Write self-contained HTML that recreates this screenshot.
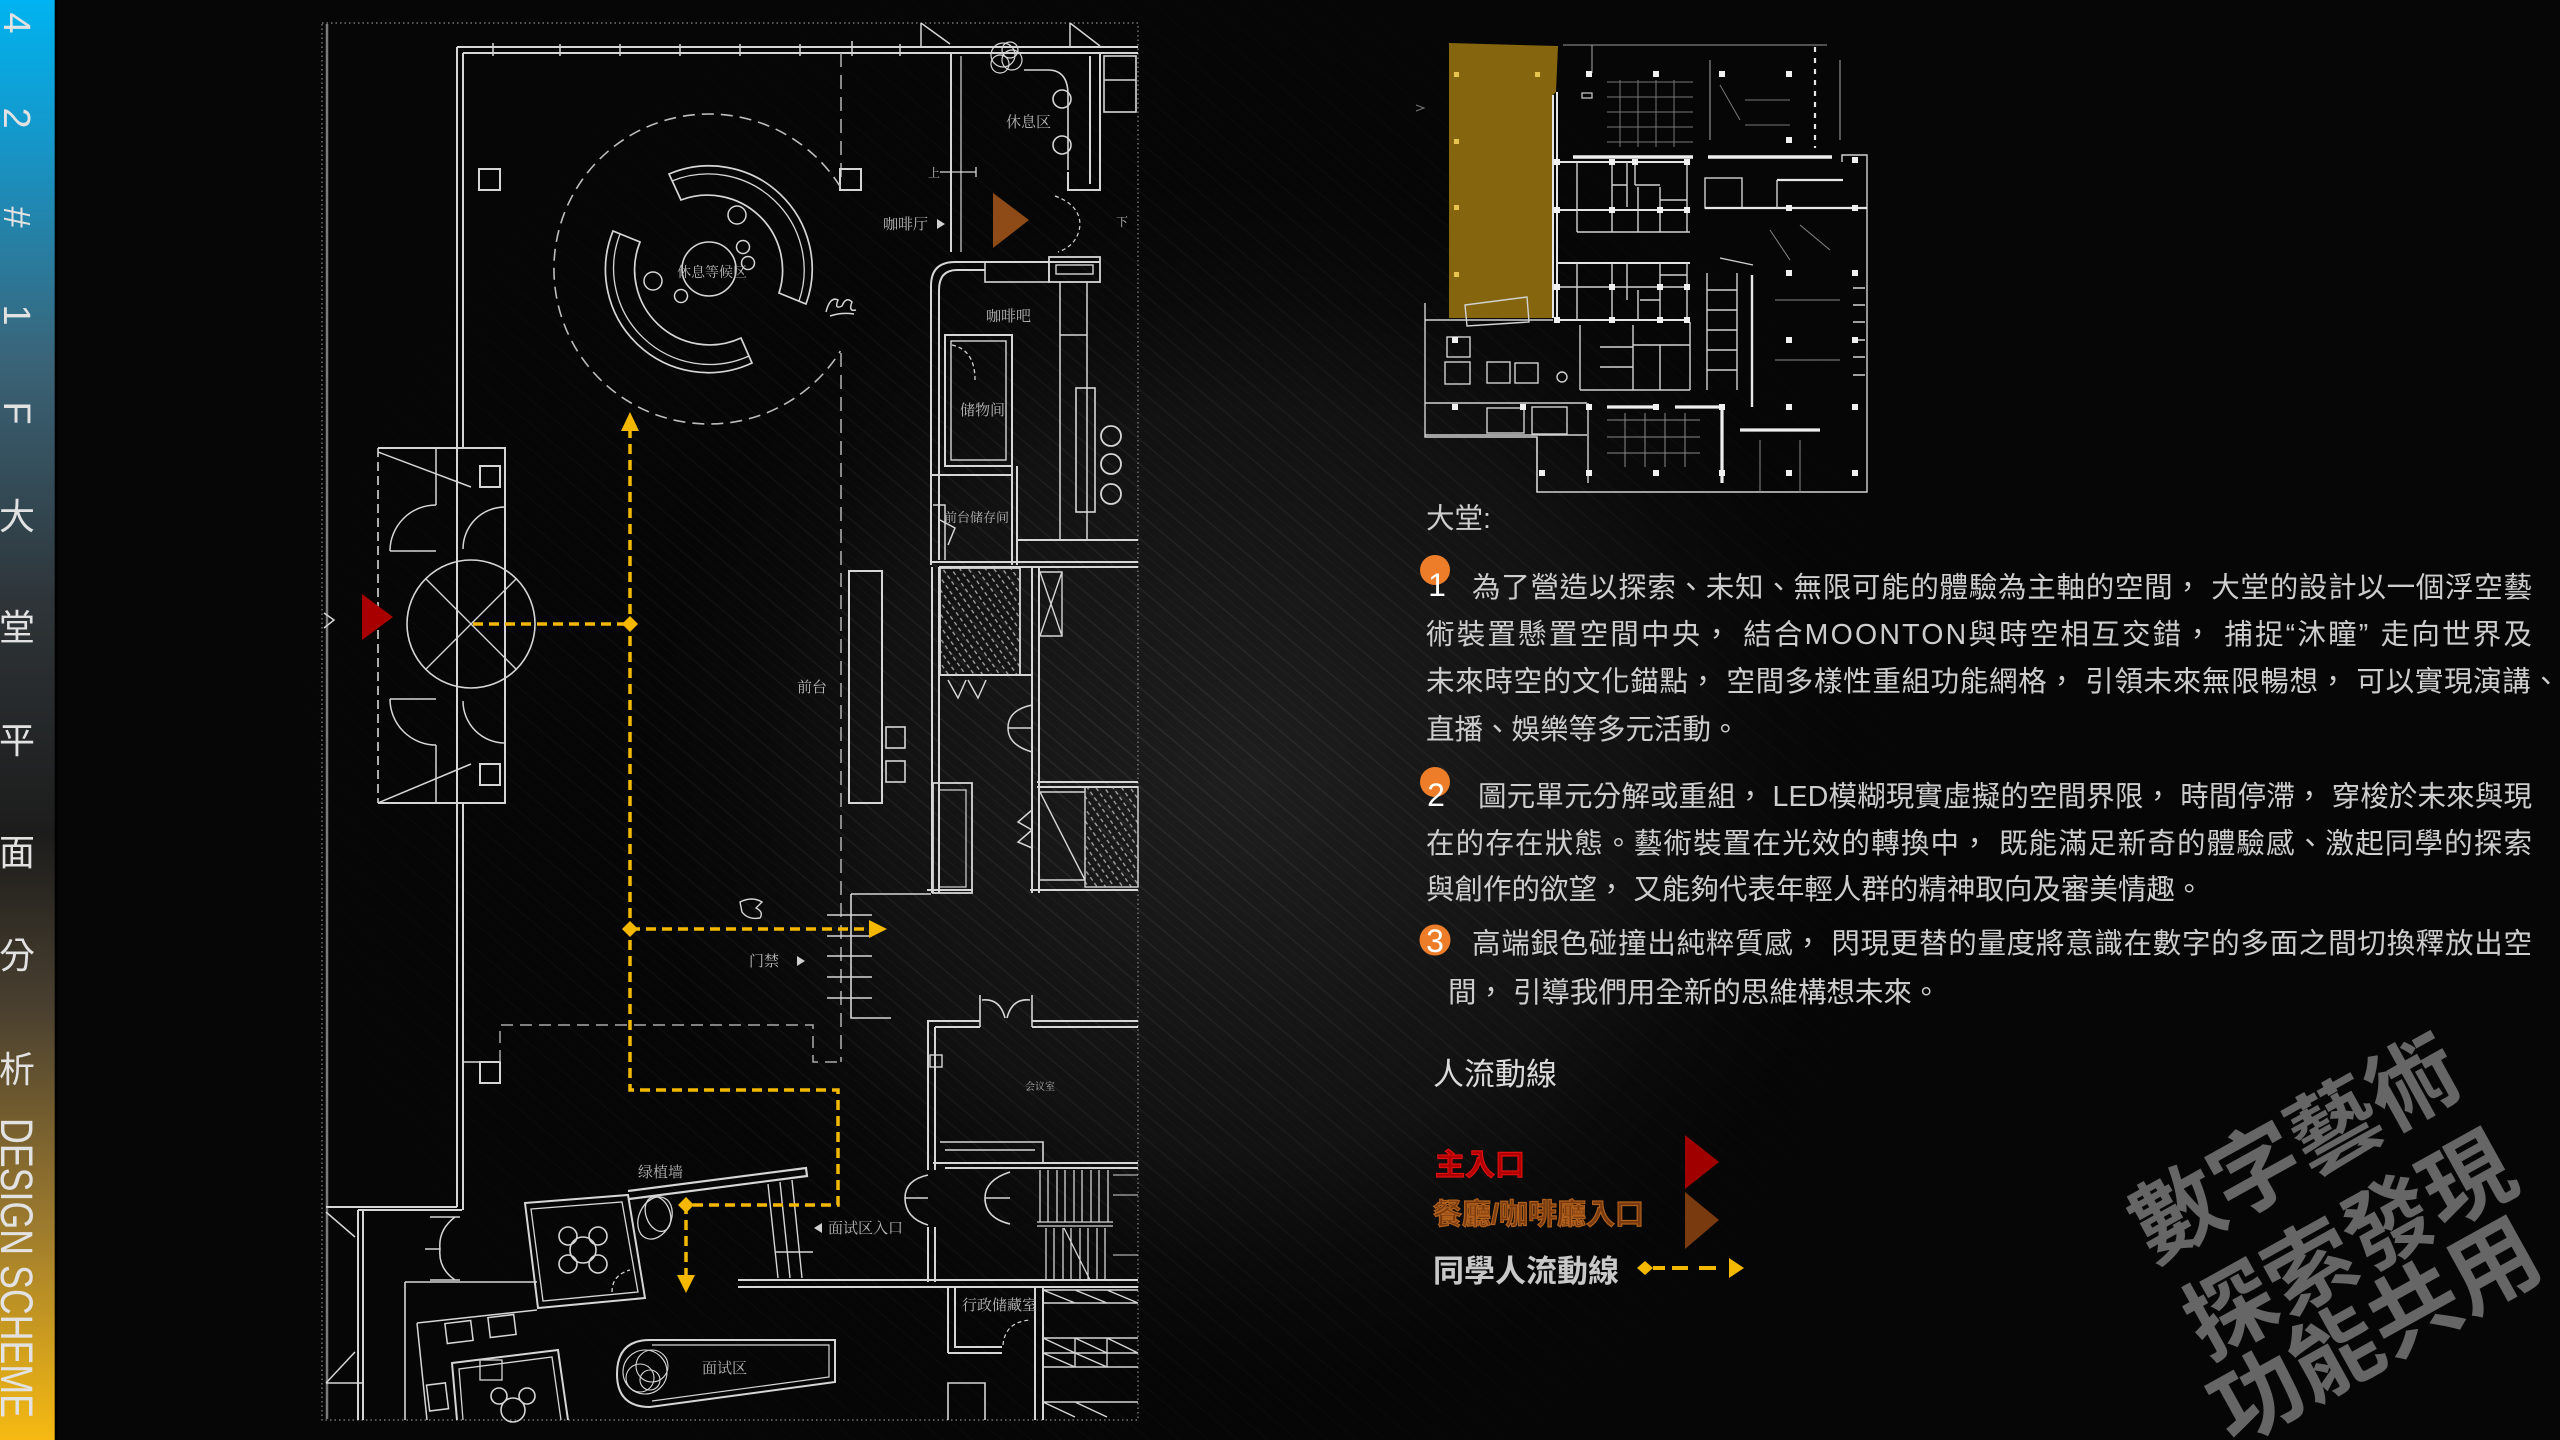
<!DOCTYPE html>
<html><head><meta charset="utf-8">
<style>
html,body{margin:0;padding:0;background:#060606;width:2560px;height:1440px;overflow:hidden}
svg{display:block}
</style></head><body>
<svg width="2560" height="1440" viewBox="0 0 2560 1440" xmlns="http://www.w3.org/2000/svg" font-family="'Liberation Sans','Noto Sans CJK TC',sans-serif">
<defs>
 <linearGradient id="side" x1="0" y1="0" x2="0" y2="1">
  <stop offset="0" stop-color="#00b3f0"/>
  <stop offset="0.1" stop-color="#1696c8"/>
  <stop offset="0.25" stop-color="#3a6478"/>
  <stop offset="0.42" stop-color="#2e3438"/>
  <stop offset="0.58" stop-color="#1c1c1b"/>
  <stop offset="0.7" stop-color="#4a4030"/>
  <stop offset="0.85" stop-color="#9c7a2e"/>
  <stop offset="1" stop-color="#f6ba12"/>
 </linearGradient>
 <radialGradient id="glow" cx="1250" cy="780" r="650" gradientUnits="userSpaceOnUse">
  <stop offset="0" stop-color="#1e1e1e"/>
  <stop offset="0.6" stop-color="#111"/>
  <stop offset="1" stop-color="#060606" stop-opacity="0"/>
 </radialGradient>
 <radialGradient id="mg" cx="1100" cy="760" r="900" gradientUnits="userSpaceOnUse">
  <stop offset="0" stop-color="#fff"/>
  <stop offset="1" stop-color="#000"/>
 </radialGradient>
 <mask id="sm"><rect width="2560" height="1440" fill="url(#mg)"/></mask>
 <pattern id="streak" width="19" height="19" patternUnits="userSpaceOnUse" patternTransform="rotate(40)">
  <line x1="0" y1="3" x2="19" y2="3" stroke="#fff" stroke-opacity="0.08" stroke-width="1.4"/>
  <line x1="0" y1="12" x2="19" y2="12" stroke="#fff" stroke-opacity="0.04" stroke-width="1"/>
 </pattern>
 <pattern id="hatch" width="7" height="7" patternUnits="userSpaceOnUse" patternTransform="rotate(55)">
  <line x1="0" y1="2" x2="4" y2="2" stroke="#aaa" stroke-width="1.3"/>
 </pattern>
</defs>

<!-- background -->
<rect width="2560" height="1440" fill="#060606"/>
<rect width="2560" height="1440" fill="url(#glow)"/>
<rect width="2560" height="1440" fill="url(#streak)" mask="url(#sm)"/>

<!-- sidebar -->
<rect x="0" y="0" width="55" height="1440" fill="url(#side)"/>
<line x1="56" y1="0" x2="56" y2="1440" stroke="#000" stroke-width="3" stroke-opacity="0.6"/>
<g fill="#e2e2e2" font-size="38">
 <text transform="translate(4,23) rotate(90)" text-anchor="middle">4</text>
 <text transform="translate(4,118) rotate(90)" text-anchor="middle">2</text>
 <text transform="translate(4,217) rotate(90)" text-anchor="middle">#</text>
 <text transform="translate(4,315) rotate(90)" text-anchor="middle">1</text>
 <text transform="translate(4,413) rotate(90)" text-anchor="middle">F</text>
</g>
<g fill="#e2e2e2" font-size="36" text-anchor="middle">
 <text x="17" y="529">大</text>
 <text x="17" y="640">堂</text>
 <text x="17" y="753">平</text>
 <text x="17" y="865">面</text>
 <text x="17" y="968">分</text>
 <text x="17" y="1082">析</text>
</g>
<text transform="translate(1,1118) rotate(90)" fill="#e2e2e2" font-size="45" textLength="300" lengthAdjust="spacingAndGlyphs">DESIGN SCHEME</text>

<!-- ================= FLOOR PLAN ================= -->
<rect x="322" y="23" width="816" height="1397" fill="none" stroke="#8a8a8a" stroke-width="1.2" stroke-dasharray="1.5 3"/>
<line x1="327" y1="24" x2="327" y2="1419" stroke="#7a7a7a" stroke-width="2.5"/>

<g fill="none" stroke="#d6d6d6" stroke-width="2">
 <!-- top wall -->
 <path d="M457 47 H1138 M463 53 H1138"/>
 <path stroke-width="1.5" d="M493 43v13 M560 44v12 M620 44v12 M680 44v12 M740 44v12 M800 44v12 M852 41v15 M900 44v12"/>
 <!-- left hall wall -->
 <path d="M457 47 V1207 M463 53 V448 M463 803 V1210"/>
 <!-- dashed axis -->
 <path stroke="#aaa" stroke-width="1.6" stroke-dasharray="14 8" d="M841 53 V180 M841 353 V1062"/>
 <!-- columns -->
 <rect x="479" y="169" width="21" height="21"/>
 <rect x="840" y="169" width="21" height="21"/>
 <rect x="480" y="466" width="20" height="21"/>
 <rect x="480" y="764" width="20" height="21"/>
 <rect x="480" y="1062" width="20" height="21"/>

 <!-- big dashed circle -->
 <path stroke="#bdbdbd" stroke-width="1.6" stroke-dasharray="12 7" d="M840.4 186.9 A155 155 0 1 0 840.4 351.1"/>
 <!-- installation bands -->
 <path stroke-width="1.7" d="M669 174 A103 103 0 0 1 806 304 L779 293 A75 75 0 0 0 681 200 Z"/>
 <path stroke-width="1.3" d="M672 181 A96 96 0 0 1 799 301"/>
 <path stroke-width="1.7" d="M752 363 A103 103 0 0 1 613 231 L640 242 A75 75 0 0 0 741 338 Z"/>
 <path stroke-width="1.3" d="M749 356 A96 96 0 0 1 620 234"/>
 <circle cx="709" cy="269" r="27" stroke-width="1.6"/>
 <circle cx="737" cy="215" r="9" stroke-width="1.5"/>
 <circle cx="743" cy="247" r="6.5" stroke-width="1.5"/>
 <circle cx="748" cy="263" r="6.5" stroke-width="1.5"/>
 <circle cx="653" cy="281" r="9" stroke-width="1.5"/>
 <circle cx="681" cy="296" r="6.5" stroke-width="1.5"/>
 <!-- sketch figure -->
 <path stroke-width="1.5" d="M826 312 Q830 296 838 300 Q834 310 842 306 Q846 296 852 302 Q848 312 856 310 M830 316 Q842 312 854 314"/>

 <!-- vestibule -->
 <path d="M378 448 H505 V803 H378"/>
 <line x1="378" y1="448" x2="378" y2="803" stroke-dasharray="9 5" stroke-width="1.6"/>
 <path stroke-width="1.5" d="M436 448 V505 M436 745 V803 M378 452 L471 487 M378 803 L471 764"/>
 <path stroke-width="1.5" d="M436 505 A46 46 0 0 0 390 551 M390 551 H436 M463 549 A42 42 0 0 1 505 507"/>
 <path stroke-width="1.5" d="M436 745 A46 46 0 0 1 390 699 M390 699 H436 M463 701 A42 42 0 0 0 505 743"/>
 <circle cx="471" cy="624" r="64" stroke-width="1.6"/>
 <path stroke-width="1.4" d="M426 579 L516 669 M426 669 L516 579"/>
 <path stroke-width="1.5" d="M324 613 L334 620 L324 628"/>

 <!-- top right: lounge -->
 <path stroke-width="1.5" d="M921 23 V47 M921 23 L950 44 M1070 23 V47 M1070 23 L1100 46"/>
 <path d="M951 53 V252 M1100 53 V190 H1068 V172 M1090 56 V184"/>
 <path stroke-width="1.2" d="M961 56 V252"/>
 <rect x="1104" y="56" width="32" height="56" stroke-width="1.6"/>
 <path stroke-width="1.6" d="M1104 80 H1136"/>
 <path stroke-width="1.6" d="M1024 70 H1048 Q1068 70 1068 95 V170"/>
 <circle cx="1062" cy="99" r="9" stroke-width="1.6"/>
 <circle cx="1062" cy="145" r="9" stroke-width="1.6"/>
 <g stroke-width="1.2"><circle cx="1003" cy="55" r="12"/><circle cx="1012" cy="60" r="10"/><circle cx="1000" cy="64" r="9"/><circle cx="1010" cy="50" r="8"/></g>
 <path stroke-width="1.3" d="M940 172 H976 M976 167 V177"/>
 <path stroke-width="1.2" stroke-dasharray="4 3" d="M1055 196 Q1080 205 1080 225 Q1078 245 1058 252"/>

 <!-- cafe block -->
 <path d="M931 565 V286 Q931 262 955 262 H1100 M939 560 V290 Q939 270 957 270 H985"/>
 <rect x="985" y="262" width="64" height="20" stroke-width="1.6"/>
 <rect x="1049" y="257" width="51" height="25" stroke-width="1.8"/>
 <rect x="1056" y="265" width="37" height="9" stroke-width="1.4"/>
 <path stroke-width="1.5" d="M1060 282 V540 M1087 282 V540 M1060 335 H1087"/>
 <rect x="1076" y="388" width="19" height="124" stroke-width="1.6"/>
 <circle cx="1111" cy="436" r="10" stroke-width="1.8"/>
 <circle cx="1111" cy="464" r="10" stroke-width="1.8"/>
 <circle cx="1111" cy="494" r="10" stroke-width="1.8"/>
 <rect x="945" y="335" width="67" height="131"/>
 <rect x="951" y="341" width="55" height="119" stroke-width="1.4"/>
 <path stroke-width="1.3" stroke-dasharray="4 3" d="M952 345 Q975 350 975 380"/>
 <path d="M931 475 H1012 M1012 335 V565 M1017 466 V565"/>
 <path d="M1017 540 H1138 M931 562 H1138 M939 567 H1138"/>
 <path stroke-width="1.5" d="M933 505 H945 V560 M940 520 L955 528 L948 545"/>

 <!-- right column mid -->
 <path d="M932 567 V893 M939 567 V893"/>
 <rect x="940" y="568" width="80" height="107" fill="url(#hatch)" stroke-width="1.8"/>
 <path d="M1032 568 V893 M1039 568 V893 M940 675 H1032"/>
 <path stroke-width="1.4" d="M1040 572 H1062 V636 H1040 M1040 572 L1062 636 M1062 572 L1040 636"/>
 <path stroke-width="1.5" d="M948 680 L958 698 L966 680 M968 680 L978 698 L986 680"/>
 <path stroke-width="1.5" d="M1032 705 Q1008 710 1008 728 Q1008 745 1032 752 M1008 728 H1032"/>
 <path d="M1037 782 H1138 M1037 787 H1138"/>
 <rect x="933" y="783" width="39" height="110" stroke-width="1.8"/>
 <rect x="939" y="790" width="27" height="97" stroke-width="1.2"/>
 <rect x="1085" y="787" width="53" height="100" fill="url(#hatch)" stroke-width="1.4"/>
 <path stroke-width="1.4" d="M1040 792 H1085 M1040 880 H1085 M1040 792 L1085 880"/>
 <path stroke-width="1.5" d="M1032 810 L1018 822 L1032 830 M1032 830 L1018 842 L1032 848"/>
 <path d="M927 890 H973 M1030 890 H1138"/>

 <!-- desk -->
 <rect x="849" y="571" width="33" height="232"/>
 <rect x="886" y="727" width="19" height="21" stroke-width="1.6"/>
 <rect x="886" y="761" width="19" height="21" stroke-width="1.6"/>

 <!-- gate area -->
 <path stroke-width="1.6" d="M851 894 H931 M851 894 V1018 H891"/>
 <path stroke-width="1.6" d="M827 915 H872 M827 936 H872 M827 956 H872 M827 977 H872 M827 998 H872"/>
 <path stroke-width="1.4" d="M740 902 Q752 896 762 902 L756 908 Q764 912 760 918 Q748 920 742 912 Z"/>

 <!-- lower right rooms -->
 <path d="M927 1021 H980 M1032 1021 H1138 M935 1027 H980 M1032 1027 H1138"/>
 <path stroke-width="1.6" d="M980 995 V1027 M1032 995 V1027 M982 1000 Q1000 998 1005 1018 M1030 1000 Q1012 998 1007 1018"/>
 <path d="M928 1021 V1170 M935 1027 V1170 M928 1227 V1282 M935 1227 V1282"/>
 <rect x="930" y="1055" width="12" height="12" stroke-width="1.4"/>
 <path stroke-width="1.6" d="M940 1142 H1043 V1163 M945 1150 H1035"/>
 <path d="M933 1163 H1138 M945 1168 H1138"/>
 <path stroke-width="1.6" d="M928 1175 Q905 1180 905 1198 Q905 1218 928 1225 M905 1198 H928 M1010 1172 Q985 1180 985 1198 Q985 1218 1010 1224 M985 1198 H1010"/>
 <path stroke-width="1.3" d="M1040 1170 V1222 M1048 1170 V1222 M1057 1170 V1222 M1065 1170 V1222 M1074 1170 V1222 M1082 1170 V1222 M1091 1170 V1222 M1099 1170 V1222 M1108 1170 V1222 M1037 1222 H1113 M1046 1228 V1280 M1054 1228 V1280 M1063 1228 V1280 M1071 1228 V1280 M1080 1228 V1280 M1088 1228 V1280 M1097 1228 V1280 M1105 1228 V1280 M1064 1228 L1090 1280 M1037 1226 H1113"/>
 <path stroke-width="1.1" d="M1113 1175 H1138 M1113 1195 H1138 M1113 1255 H1138"/>
 <path d="M738 1280 H1138 M738 1287 H1138"/>
 <path d="M948 1287 V1353 M955 1287 V1347 H1002 M948 1353 H1002"/>
 <path d="M1035 1287 V1420 M1043 1287 V1420"/>
 <path stroke-width="1.4" d="M1043 1290 H1138 M1043 1303 H1138 M1043 1290 L1075 1303 M1075 1290 L1107 1303 M1107 1290 L1138 1303 M1043 1338 H1138 M1043 1367 H1138 M1043 1353 H1138 M1043 1338 L1075 1353 M1075 1338 L1107 1353 M1107 1338 L1138 1353 M1043 1353 L1075 1367 M1075 1353 L1107 1367 M1043 1402 H1138 M1043 1402 L1075 1417 M1075 1402 L1107 1417 M1075 1338 V1367 M1107 1338 V1367"/>
 <path stroke-width="1.6" d="M948 1420 V1383 H985 V1420"/>
 <path stroke-width="1.2" stroke-dasharray="4 3" d="M1003 1345 Q1005 1322 1030 1320"/>

 <!-- lower left -->
 <path d="M326 1207 H457 M358 1210 H462 M358 1210 V1420 M363 1210 V1420"/>
 <path stroke-width="1.5" d="M326 1212 L355 1237 M326 1383 L355 1352 M326 1383 H363"/>
 <path stroke-width="1.5" d="M430 1217 H460 M430 1280 H460 M455 1217 Q438 1230 440 1249 Q438 1268 455 1280 M440 1249 H425"/>
 <path stroke-width="1.6" d="M405 1282 H537 M405 1282 V1420"/>
 <path d="M525 1203 L628 1195 L645 1298 L538 1308 Z"/>
 <path stroke-width="1.3" d="M531 1209 L622 1202 L638 1292 L543 1301 Z"/>
 <path stroke-width="1.3" stroke-dasharray="4 3" d="M612 1292 Q612 1275 630 1270"/>
 <g stroke-width="1.6">
  <circle cx="583" cy="1250" r="13"/>
  <circle cx="568" cy="1236" r="9"/><circle cx="598" cy="1236" r="9"/>
  <circle cx="568" cy="1264" r="9"/><circle cx="598" cy="1264" r="9"/>
 </g>
 <path stroke-width="2.2" d="M628 1191 L806 1168 L807 1176 L629 1199"/>
 <g stroke-width="1.3"><ellipse cx="655" cy="1218" rx="16" ry="22" transform="rotate(25 655 1218)"/><ellipse cx="658" cy="1214" rx="12" ry="18" transform="rotate(-20 658 1214)"/></g>
 <path stroke-width="1.4" d="M768 1184 L778 1278 M780 1182 L790 1278 M792 1180 L802 1278 M776 1252 H813"/>
 <path stroke-width="1.5" d="M417 1323 L537 1310 M417 1323 L427 1420"/>
 <rect x="446" y="1322" width="26" height="20" transform="rotate(-7 459 1332)" stroke-width="1.5"/>
 <rect x="489" y="1316" width="26" height="20" transform="rotate(-7 502 1326)" stroke-width="1.5"/>
 <rect x="428" y="1384" width="19" height="26" transform="rotate(-7 437 1397)" stroke-width="1.5"/>
 <path d="M457 1420 L452 1363 L558 1350 L568 1420"/>
 <path stroke-width="1.3" d="M463 1420 L459 1369 L552 1357 L561 1420"/>
 <rect x="480" y="1360" width="22" height="20" stroke-width="1.3"/>
 <g stroke-width="1.6">
  <circle cx="513" cy="1410" r="12"/>
  <circle cx="499" cy="1396" r="8"/><circle cx="527" cy="1396" r="8"/>
 </g>
 <path d="M650 1340 H835 V1382 L650 1407 Q617 1407 617 1374 Q617 1340 650 1340 Z"/>
 <path stroke-width="1.2" d="M652 1345 H829 V1377 L652 1401"/>
 <g stroke-width="1.1"><circle cx="645" cy="1372" r="22"/><circle cx="652" cy="1366" r="16"/><circle cx="640" cy="1378" r="14"/><circle cx="650" cy="1380" r="10"/></g>
 <path stroke="#aaa" stroke-width="1.5" stroke-dasharray="12 7" d="M500 1062 V1025 H813 V1062 H841"/>
 <path stroke-width="1.5" d="M463 1062 H480"/>
</g>

<!-- plan labels -->
<g fill="#b8b8b8" font-size="15" font-family="'Liberation Serif','Noto Serif CJK SC',serif">
 <text x="712" y="277" text-anchor="middle" font-size="14">休息等候区</text>
 <text x="1006" y="127">休息区</text>
 <text x="883" y="229">咖啡厅</text>
 <text x="986" y="321">咖啡吧</text>
 <text x="960" y="415">储物间</text>
 <text x="944" y="522" font-size="13">前台储存间</text>
 <text x="797" y="692">前台</text>
 <text x="749" y="966">门禁</text>
 <text x="638" y="1177">绿植墙</text>
 <text x="828" y="1233">面试区入口</text>
 <text x="702" y="1373">面试区</text>
 <text x="962" y="1310">行政储藏室</text>
 <text x="928" y="177" font-size="12">上</text>
 <text x="1116" y="226" font-size="12">下</text>
 <text x="1025" y="1090" font-size="10">会议室</text>
</g>
<g fill="#d0d0d0">
 <path d="M937 219 L945 224 L937 229 Z"/>
 <path d="M797 956 L805 961 L797 966 Z"/>
 <path d="M822 1223 L814 1228 L822 1233 Z"/>
</g>

<!-- entrance triangles -->
<path d="M993 193 L1029 220 L993 248 Z" fill="#8e4a17"/>
<path d="M362 594 L393 617 L362 640 Z" fill="#a80000"/>

<!-- yellow path -->
<g fill="none" stroke="#f5b800" stroke-width="3.5" stroke-dasharray="10 6">
 <path d="M473 624 H630"/>
 <path d="M630 428 V1090 H838 V1205 H686 V1280"/>
 <path d="M630 929 H872"/>
</g>
<g fill="#f5b800">
 <path d="M630 616 L638 624 L630 632 L622 624 Z"/>
 <path d="M630 921 L638 929 L630 937 L622 929 Z"/>
 <path d="M686 1197 L694 1205 L686 1213 L678 1205 Z"/>
 <path d="M630 412 L639 431 L621 431 Z"/>
 <path d="M887 929 L869 920 L869 938 Z"/>
 <path d="M686 1293 L677 1275 L695 1275 Z"/>
</g>

<!-- ================= MINI MAP ================= -->
<path d="M1449 43 L1558 46 L1556 92 L1552 96 L1552 318 L1449 318 Z" fill="#86650f"/>
<g fill="#e8c450"><rect x="1454" y="72" width="5" height="5"/><rect x="1535" y="72" width="5" height="5"/><rect x="1454" y="139" width="5" height="5"/><rect x="1454" y="205" width="5" height="5"/><rect x="1454" y="272" width="5" height="5"/></g>
<g fill="none" stroke="#d2d2d2" stroke-width="1.4">
 <path d="M1465 305 L1527 297 L1529 322 L1467 326 Z"/>
 <path d="M1425 303 V437 H1537 V492 H1867 V155 H1842 V162"/>
 <path d="M1425 320 H1553"/>
 <path stroke-width="2" stroke="#e4e4e4" d="M1557 92 V320 M1553 95 V318"/>
 <path stroke="#9a9a9a" stroke-width="1.1" d="M1563 45 H1827 M1592 45 V73 M1710 60 V140 M1840 60 V140"/>
 <rect x="1582" y="93" width="10" height="5" stroke-width="1.2"/>
 <path stroke="#e6e6e6" stroke-width="2.2" stroke-dasharray="5 6" d="M1815 47 V148"/>
 <path stroke="#777" stroke-width="1" d="M1607 82 H1693 M1607 97 H1693 M1607 112 H1693 M1607 127 H1693 M1607 142 H1693 M1620 80 V147 M1638 80 V147 M1656 80 V147 M1674 80 V147 M1720 85 L1740 120 M1745 100 H1790 M1745 125 H1790"/>
 <path stroke-width="3.5" stroke="#eeeeee" d="M1573 157 H1693 M1708 157 H1832"/>
 <!-- left block -->
 <path stroke-width="2" stroke="#e4e4e4" d="M1557 162 H1690 M1557 210 H1690 M1557 263 H1690 M1557 320 H1690"/>
 <path d="M1577 232 H1690 M1557 287 H1690 M1577 162 V232 M1612 162 V232 M1627 162 V207 M1635 162 V185 M1638 187 V232 M1660 187 V232 M1687 162 V232 M1635 185 H1660 M1660 200 H1687 M1612 185 H1627 M1577 263 V320 M1612 263 V320 M1627 263 V300 M1638 290 V320 M1660 263 V320 M1687 263 V320 M1640 300 H1660 M1660 275 H1687"/>
 <!-- bottom-left -->
 <rect x="1447" y="337" width="23" height="20"/><rect x="1445" y="362" width="25" height="22"/><rect x="1487" y="362" width="23" height="21"/><rect x="1515" y="363" width="23" height="20"/>
 <circle cx="1562" cy="377" r="5"/>
 <path d="M1425 403 H1587 M1425 435 H1587 M1588 403 V483"/>
 <rect x="1487" y="408" width="37" height="25"/><rect x="1532" y="407" width="35" height="27"/>
 <!-- middle bottom block -->
 <path d="M1580 325 V390 M1633 325 V390 M1580 390 H1690 M1690 322 V390 M1600 347 H1633 M1600 367 H1633 M1633 345 H1690 M1660 345 V390"/>
 <!-- right side -->
 <rect x="1705" y="178" width="37" height="30"/>
 <path stroke-width="2.2" stroke="#e6e6e6" d="M1705 208 H1867 M1777 180 H1843"/>
 <path d="M1777 180 V208 M1707 273 V390 M1707 290 H1737 M1707 310 H1737 M1707 330 H1737 M1707 350 H1737 M1707 370 H1737 M1737 273 V390 M1720 258 L1753 265"/>
 <path stroke-width="2.4" stroke="#e6e6e6" d="M1752 275 V407"/>
 <path d="M1853 288 H1865 M1853 305 H1865 M1853 322 H1865 M1853 340 H1865 M1853 357 H1865 M1853 375 H1865"/>
 <path stroke="#888" stroke-width="1" d="M1770 230 L1790 260 M1800 225 L1830 250 M1775 300 H1840 M1775 360 H1840"/>
 <!-- bottom -->
 <path stroke-width="3.2" stroke="#eeeeee" d="M1607 407 H1657 M1675 407 H1725 M1722 407 V483 M1740 430 H1820"/>
 <path stroke="#888" stroke-width="1" d="M1607 420 H1700 M1607 437 H1700 M1607 453 H1700 M1625 413 V467 M1645 413 V467 M1665 413 V467 M1685 413 V467 M1760 440 V492 M1800 440 V492"/>
 <path d="M1537 437 V492"/>
</g>
<g fill="#f0f0f0">
 <rect x="1586" y="71" width="6" height="6"/><rect x="1653" y="71" width="6" height="6"/><rect x="1719" y="71" width="6" height="6"/><rect x="1786" y="71" width="6" height="6"/>
 <rect x="1786" y="137" width="6" height="6"/><rect x="1852" y="157" width="6" height="6"/>
 <rect x="1554" y="159" width="6" height="6"/><rect x="1609" y="159" width="6" height="6"/><rect x="1632" y="159" width="6" height="6"/><rect x="1684" y="159" width="6" height="6"/>
 <rect x="1554" y="207" width="6" height="6"/><rect x="1609" y="207" width="6" height="6"/><rect x="1657" y="207" width="6" height="6"/><rect x="1684" y="207" width="6" height="6"/><rect x="1786" y="205" width="6" height="6"/><rect x="1852" y="205" width="6" height="6"/>
 <rect x="1554" y="284" width="6" height="6"/><rect x="1609" y="284" width="6" height="6"/><rect x="1657" y="284" width="6" height="6"/><rect x="1684" y="284" width="6" height="6"/>
 <rect x="1786" y="270" width="6" height="6"/><rect x="1852" y="270" width="6" height="6"/>
 <rect x="1554" y="317" width="6" height="6"/><rect x="1609" y="317" width="6" height="6"/><rect x="1657" y="317" width="6" height="6"/><rect x="1684" y="317" width="6" height="6"/>
 <rect x="1786" y="337" width="6" height="6"/><rect x="1852" y="337" width="6" height="6"/>
 <rect x="1452" y="337" width="6" height="6"/><rect x="1452" y="404" width="6" height="6"/><rect x="1520" y="404" width="6" height="6"/><rect x="1586" y="404" width="6" height="6"/><rect x="1653" y="404" width="6" height="6"/><rect x="1719" y="404" width="6" height="6"/><rect x="1786" y="404" width="6" height="6"/><rect x="1852" y="404" width="6" height="6"/>
 <rect x="1539" y="470" width="6" height="6"/><rect x="1586" y="470" width="6" height="6"/><rect x="1653" y="470" width="6" height="6"/><rect x="1719" y="470" width="6" height="6"/><rect x="1786" y="470" width="6" height="6"/><rect x="1852" y="470" width="6" height="6"/>
</g>
<path d="M1416 105 L1424 108 L1416 111" fill="none" stroke="#777" stroke-width="1"/>

<!-- ================= TEXT ================= -->
<g fill="#cdcdcd" font-size="28.5">
 <text x="1426" y="528">大堂:</text>
 <text x="1472" y="597" textLength="1060">為了營造以探索、未知、無限可能的體驗為主軸的空間， 大堂的設計以一個浮空藝</text>
 <text x="1426" y="644" textLength="1106">術裝置懸置空間中央， 結合MOONTON與時空相互交錯， 捕捉“沐瞳” 走向世界及</text>
 <text x="1426" y="691" textLength="1134">未來時空的文化錨點， 空間多樣性重組功能網格， 引領未來無限暢想， 可以實現演講、</text>
 <text x="1426" y="739">直播、娛樂等多元活動。</text>
 <text x="1478" y="806" textLength="1054">圖元單元分解或重組， LED模糊現實虛擬的空間界限， 時間停滯， 穿梭於未來與現</text>
 <text x="1426" y="853" textLength="1106">在的存在狀態。藝術裝置在光效的轉換中， 既能滿足新奇的體驗感、激起同學的探索</text>
 <text x="1426" y="899">與創作的欲望， 又能夠代表年輕人群的精神取向及審美情趣。</text>
 <text x="1472" y="953" textLength="1060">高端銀色碰撞出純粹質感， 閃現更替的量度將意識在數字的多面之間切換釋放出空</text>
 <text x="1448" y="1002">間， 引導我們用全新的思維構想未來。</text>
</g>
<g fill="#ee7d2a">
 <circle cx="1435" cy="570" r="15"/>
 <circle cx="1435" cy="782" r="15"/>
 <circle cx="1435" cy="940" r="15.5"/>
</g>
<g fill="#ffffff" font-size="32" text-anchor="middle">
 <text x="1437" y="596">1</text>
 <text x="1436" y="806">2</text>
 <text x="1435" y="952">3</text>
</g>

<text x="1433" y="1085" fill="#dadada" font-size="31">人流動線</text>

<text x="1435" y="1175" fill="#b00000" stroke="#e01010" stroke-width="1.2" font-size="30" font-weight="bold">主入口</text>
<text x="1433" y="1224" fill="#7a3a10" stroke="#b0601c" stroke-width="1.2" font-size="29" font-weight="bold">餐廳/咖啡廳入口</text>
<text x="1433" y="1282" fill="#c8c8c8" font-size="31" font-weight="bold">同學人流動線</text>
<path d="M1685 1135 L1719 1162 L1685 1189 Z" fill="#a00000"/>
<path d="M1685 1192 L1719 1220 L1685 1249 Z" fill="#7a3a10"/>
<g fill="#f5b800">
 <path d="M1645 1261 L1653 1268 L1645 1275 L1637 1268 Z"/>
 <rect x="1653" y="1266" width="12" height="4"/>
 <rect x="1672" y="1266" width="16" height="4"/>
 <rect x="1699" y="1266" width="17" height="4"/>
 <path d="M1729 1258 L1744 1268 L1729 1278 Z"/>
</g>

<!-- watermark -->
<g fill="#666666" font-size="90" font-weight="bold" text-anchor="middle">
 <text transform="translate(2295,1148) rotate(-29)" y="32">數字藝術</text>
 <text transform="translate(2349,1245) rotate(-29)" y="32">探索發現</text>
 <text transform="translate(2375,1331) rotate(-29)" y="32">功能共用</text>
</g>
</svg>
</body></html>
